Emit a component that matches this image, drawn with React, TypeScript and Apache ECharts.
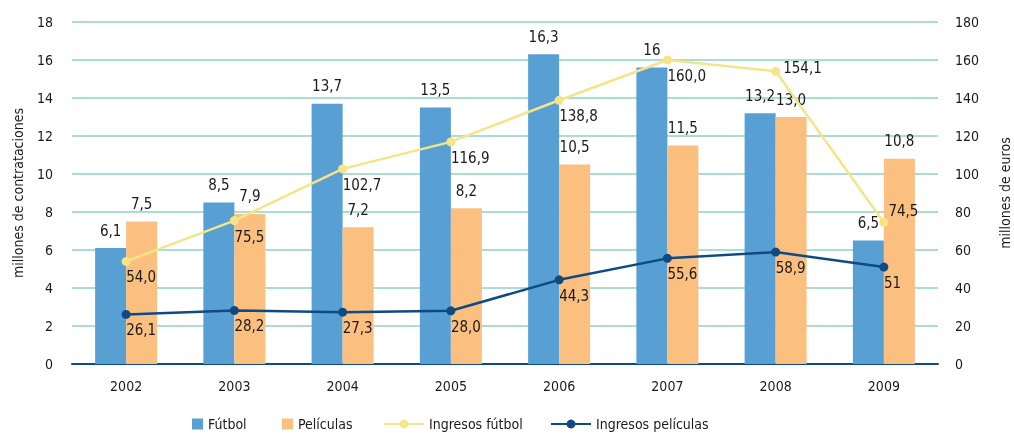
import React, { useEffect, useRef } from "react";
import * as echarts from "echarts";

const years = ["2002", "2003", "2004", "2005", "2006", "2007", "2008", "2009"];
const futbol = [6.1, 8.5, 13.7, 13.5, 16.3, 15.6, 13.2, 6.5];
const futbolLabels = ["6,1", "8,5", "13,7", "13,5", "16,3", "16", "13,2", "6,5"];
const peliculas = [7.5, 7.9, 7.2, 8.2, 10.5, 11.5, 13.0, 10.8];
const peliculasLabels = ["7,5", "7,9", "7,2", "8,2", "10,5", "11,5", "13,0", "10,8"];
const ingresosFutbol = [54.0, 75.5, 102.7, 116.9, 138.8, 160.0, 154.1, 74.5];
const ingresosFutbolLabels = ["54,0", "75,5", "102,7", "116,9", "138,8", "160,0", "154,1", "74,5"];
const ingresosPeliculas = [26.1, 28.2, 27.3, 28.0, 44.3, 55.6, 58.9, 51];
const ingresosPeliculasLabels = ["26,1", "28,2", "27,3", "28,0", "44,3", "55,6", "58,9", "51"];
const leftTicks = [0, 18, 2];
const rightTicks = [0, 180, 20];

const FONT = "'DejaVu Sans Condensed', 'Liberation Sans Narrow', 'Liberation Sans', sans-serif";
const TXT = "#1a1a1a";
const BLUE = "#589fd3";
const ORANGE = "#fbc07f";
const YELLOW = "#f4e58a";
const NAVY = "#0f4a84";
const GRID = "#abdcd5";

export default function App() {
  const ref = useRef<HTMLDivElement>(null);
  useEffect(() => {
    if (!ref.current) return;
    const chart = echarts.init(ref.current, null, { renderer: "svg" });
    const lbl = { fontFamily: FONT, fontSize: 15, color: TXT };
    const legendBase = {
      top: 412,
      itemHeight: 11,
      textStyle: { fontFamily: FONT, fontSize: 14, color: TXT },
    };
    const yellowData = ingresosFutbol.map((v, i) => {
      if (i === 6) return { value: v, label: { position: "right", distance: 3, offset: [0, -3], align: "left" } };
      if (i === 7) return { value: v, label: { position: "right", distance: 0, offset: [0, -11], align: "left" } };
      return v;
    });
    const tick = { fontFamily: FONT, fontSize: 14, color: TXT };
    chart.setOption({
      animation: false,
      grid: { left: 72, right: 1014 - 938, top: 22, bottom: 433 - 364, outerBoundsMode: "none", containLabel: false },
      legend: [
        { ...legendBase, left: 187, itemWidth: 11, data: [{ name: "Fútbol", icon: "rect" }] },
        { ...legendBase, left: 277, itemWidth: 11, data: [{ name: "Películas", icon: "rect" }] },
        { ...legendBase, left: 378, itemWidth: 40, data: ["Ingresos fútbol"] },
        { ...legendBase, left: 545, itemWidth: 40, data: ["Ingresos películas"] },
      ],
      xAxis: {
        type: "category",
        data: years,
        axisLine: { lineStyle: { color: NAVY, width: 2 } },
        axisTick: { show: false },
        axisLabel: { ...tick, margin: 15 },
      },
      yAxis: [
        {
          type: "value",
          min: leftTicks[0],
          max: leftTicks[1],
          interval: leftTicks[2],
          name: "millones de contrataciones",
          nameLocation: "middle",
          nameGap: 47,
          nameTextStyle: tick,
          axisLine: { show: false },
          axisTick: { show: false },
          axisLabel: { ...tick, margin: 19 },
          splitLine: { lineStyle: { color: GRID, width: 2 } },
        },
        {
          type: "value",
          min: rightTicks[0],
          max: rightTicks[1],
          interval: rightTicks[2],
          name: "millones de euros",
          nameLocation: "middle",
          nameGap: 60,
          nameRotate: 90,
          nameTextStyle: tick,
          axisLine: { show: false },
          axisTick: { show: false },
          axisLabel: { ...tick, margin: 17 },
          splitLine: { show: false },
        },
      ],
      series: [
        {
          name: "Fútbol",
          type: "bar",
          data: futbol,
          barWidth: 31,
          barGap: "0%",
          itemStyle: { color: BLUE },
          label: { show: true, position: "top", distance: 10, ...lbl, formatter: (p: any) => futbolLabels[p.dataIndex] },
        },
        {
          name: "Películas",
          type: "bar",
          data: peliculas,
          barWidth: 31,
          barGap: "0%",
          itemStyle: { color: ORANGE },
          label: { show: true, position: "top", distance: 10, ...lbl, formatter: (p: any) => peliculasLabels[p.dataIndex] },
        },
        {
          name: "Ingresos fútbol",
          type: "line",
          yAxisIndex: 1,
          data: yellowData,
          symbol: "circle",
          symbolSize: 9,
          lineStyle: { color: YELLOW, width: 2.5 },
          itemStyle: { color: YELLOW },
          label: {
            show: true,
            position: "bottom",
            align: "left",
            distance: 4,
            ...lbl,
            formatter: (p: any) => ingresosFutbolLabels[p.dataIndex],
          },
          z: 3,
        },
        {
          name: "Ingresos películas",
          type: "line",
          yAxisIndex: 1,
          data: ingresosPeliculas,
          symbol: "circle",
          symbolSize: 9,
          lineStyle: { color: NAVY, width: 2.5 },
          itemStyle: { color: NAVY },
          label: {
            show: true,
            position: "bottom",
            align: "left",
            distance: 4,
            ...lbl,
            formatter: (p: any) => ingresosPeliculasLabels[p.dataIndex],
          },
          z: 3,
        },
      ],
    });
    return () => chart.dispose();
  }, []);
  return <div ref={ref} style={{ width: 1014, height: 433, position: "fixed", left: 0, top: 0, overflow: "hidden" }} />;
}
